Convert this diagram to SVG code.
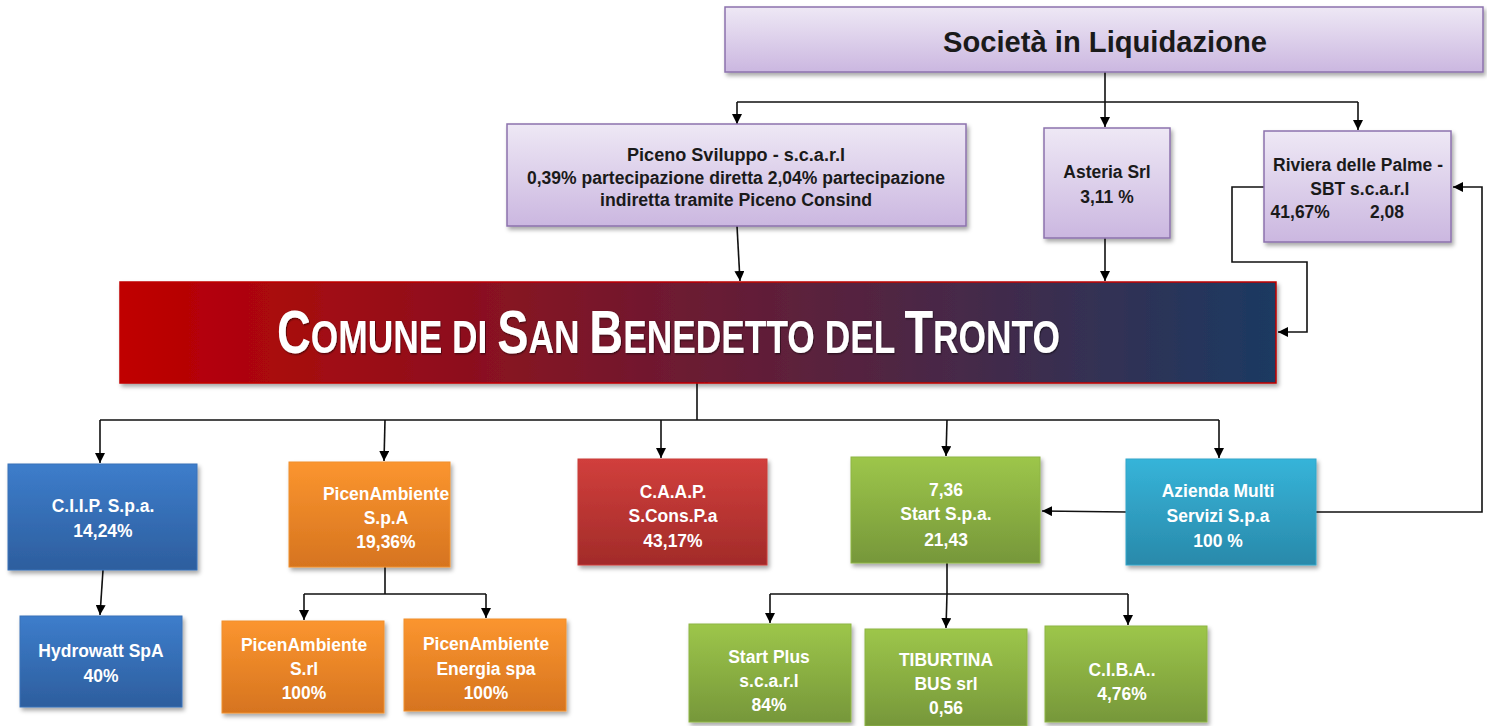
<svg xmlns="http://www.w3.org/2000/svg" width="1487" height="726" viewBox="0 0 1487 726">
<defs>
<linearGradient id="gPurple" x1="0" y1="0" x2="0" y2="1"><stop offset="0" stop-color="#eee8f5"/><stop offset="1" stop-color="#cbb7e0"/></linearGradient>
<linearGradient id="gBlue" x1="0" y1="0" x2="0" y2="1"><stop offset="0" stop-color="#3d7dcb"/><stop offset="1" stop-color="#2d5e9e"/></linearGradient>
<linearGradient id="gOrange" x1="0" y1="0" x2="0" y2="1"><stop offset="0" stop-color="#fb952f"/><stop offset="1" stop-color="#d6741f"/></linearGradient>
<linearGradient id="gRed" x1="0" y1="0" x2="0" y2="1"><stop offset="0" stop-color="#d13f3c"/><stop offset="1" stop-color="#a22b29"/></linearGradient>
<linearGradient id="gGreen" x1="0" y1="0" x2="0" y2="1"><stop offset="0" stop-color="#9dc64a"/><stop offset="1" stop-color="#76973a"/></linearGradient>
<linearGradient id="gCyan" x1="0" y1="0" x2="0" y2="1"><stop offset="0" stop-color="#36b4d9"/><stop offset="1" stop-color="#2989aa"/></linearGradient>
<linearGradient id="gComune" x1="0" y1="0" x2="1" y2="0"><stop offset="0" stop-color="#c00000"/><stop offset="0.5" stop-color="#6a1b33"/><stop offset="1" stop-color="#1b3a62"/></linearGradient>
<filter id="sh" x="-5%" y="-5%" width="115%" height="125%"><feDropShadow dx="2" dy="3" stdDeviation="2" flood-color="#000" flood-opacity="0.35"/></filter>
<filter id="tsh" x="-5%" y="-10%" width="110%" height="130%"><feDropShadow dx="1" dy="1" stdDeviation="1" flood-color="#000" flood-opacity="0.6"/></filter>
<marker id="arr" viewBox="0 0 10 10" refX="10" refY="5" markerWidth="10" markerHeight="10" markerUnits="userSpaceOnUse" orient="auto"><path d="M0,0 L10,5 L0,10 z" fill="#000"/></marker>
</defs>
<style>
.t{font-family:"Liberation Sans",Arial,sans-serif;font-weight:bold;font-size:19px;text-anchor:middle}
.s{text-anchor:start}
.dk{fill:#1a1a1a}
.wh{fill:#ffffff}
.pu{fill:url(#gPurple);stroke:#8c72ad;stroke-width:1.5;filter:url(#sh)}
.bl{fill:url(#gBlue);stroke:#3a73b8;stroke-width:1;filter:url(#sh)}
.or{fill:url(#gOrange);stroke:#f0902f;stroke-width:1;filter:url(#sh)}
.rd{fill:url(#gRed);stroke:#c93c39;stroke-width:1;filter:url(#sh)}
.gr{fill:url(#gGreen);stroke:#8eb544;stroke-width:1;filter:url(#sh)}
.cy{fill:url(#gCyan);stroke:#33a6c9;stroke-width:1;filter:url(#sh)}
.c{fill:none;stroke:#111;stroke-width:1.6}
.a{marker-end:url(#arr)}
</style>
<rect width="1487" height="726" fill="#ffffff"/>

<g id="connectors">
<path class="c" d="M1105,72 V102 M737,102 H1358"/>
<path class="c a" d="M737,102 V124"/>
<path class="c a" d="M1105,102 V127"/>
<path class="c a" d="M1358,102 V130"/>
<path class="c a" d="M737,226 L740,281"/>
<path class="c a" d="M1105,238 V281"/>
<path class="c a" d="M1264,187 H1232 V262 H1307 V332 H1278"/>
<path class="c a" d="M1316,512 H1482 V187 H1453"/>
<path class="c" d="M697,383 V420 M100,420 H1219"/>
<path class="c a" d="M100,420 V463"/>
<path class="c a" d="M385,420 L384,461"/>
<path class="c a" d="M661,420 V458"/>
<path class="c a" d="M947,420 L946,456"/>
<path class="c a" d="M1219,420 V458"/>
<path class="c a" d="M1126,512 L1042,511"/>
<path class="c a" d="M103,570 L100,615"/>
<path class="c" d="M385,567 V594 M304,594 H486"/>
<path class="c a" d="M304,594 V620"/>
<path class="c a" d="M486,594 V618"/>
<path class="c" d="M947,563 V594 M770,594 H1128"/>
<path class="c a" d="M770,594 V623"/>
<path class="c a" d="M947,594 L946,628"/>
<path class="c a" d="M1128,594 V625"/>
</g>

<g id="societa">
<rect class="pu" x="725" y="7" width="758" height="65"/>
<text class="t dk" x="1105" y="52" textLength="324" lengthAdjust="spacingAndGlyphs" style="font-size:30px">Società in Liquidazione</text>
</g>

<g id="piceno">
<rect class="pu" x="507" y="124" width="459" height="102"/>
<text class="t dk" x="736" y="161" style="font-size:18px" textLength="218" lengthAdjust="spacingAndGlyphs">Piceno Sviluppo  - s.c.a.r.l</text>
<text class="t dk" x="736" y="184" style="font-size:18px" textLength="418" lengthAdjust="spacingAndGlyphs">0,39%  partecipazione diretta 2,04% partecipazione</text>
<text class="t dk" x="736" y="206" style="font-size:18px" textLength="272" lengthAdjust="spacingAndGlyphs">indiretta tramite Piceno Consind</text>
</g>

<g id="asteria">
<rect class="pu" x="1044" y="128" width="126" height="110"/>
<g transform="translate(1107,0) scale(0.92,1)">
<text class="t dk" x="0" y="178">Asteria Srl</text>
<text class="t dk" x="0" y="203">3,11 %</text>
</g>
</g>

<g id="riviera">
<rect class="pu" x="1264" y="131" width="187" height="111"/>
<g transform="translate(1358,0) scale(0.92,1)">
<text class="t dk" x="0" y="171">Riviera delle Palme -</text>
<text class="t dk" x="2" y="195">SBT s.c.a.r.l</text>
<text class="t dk s" x="-95" y="218">41,67%</text>
<text class="t dk s" x="13" y="218">2,08</text>
</g>
</g>

<g id="comune">
<rect x="120" y="282" width="1156" height="101" fill="url(#gComune)" stroke="#c00000" stroke-width="1.5" filter="url(#sh)"/>
<text transform="translate(277,353) scale(0.768,1)" x="0" y="0" fill="#ffffff" font-family="'Liberation Sans',Arial,sans-serif" font-weight="bold" font-size="46" filter="url(#tsh)"><tspan font-size="61">C</tspan>OMUNE DI <tspan font-size="61">S</tspan>AN <tspan font-size="61">B</tspan>ENEDETTO DEL <tspan font-size="61">T</tspan>RONTO</text>
</g>

<g id="ciip">
<rect class="bl" x="8" y="464" width="189" height="106"/>
<g transform="translate(103,0) scale(0.92,1)">
<text class="t wh" x="0" y="512">C.I.I.P. S.p.a.</text>
<text class="t wh" x="0" y="537">14,24%</text>
</g>
</g>

<g id="hydrowatt">
<rect class="bl" x="20" y="616" width="162" height="91"/>
<g transform="translate(101,0) scale(0.92,1)">
<text class="t wh" x="0" y="657">Hydrowatt SpA</text>
<text class="t wh" x="0" y="682">40%</text>
</g>
</g>

<g id="picenambiente-spa">
<rect class="or" x="289" y="462" width="161" height="105"/>
<g transform="translate(386,0) scale(0.92,1)">
<text class="t wh" x="0" y="500">PicenAmbiente</text>
<text class="t wh" x="0" y="524">S.p.A</text>
<text class="t wh" x="0" y="548">19,36%</text>
</g>
</g>

<g id="picenambiente-srl">
<rect class="or" x="222" y="621" width="162" height="92"/>
<g transform="translate(304,0) scale(0.92,1)">
<text class="t wh" x="0" y="651">PicenAmbiente</text>
<text class="t wh" x="0" y="675">S.rl</text>
<text class="t wh" x="0" y="699">100%</text>
</g>
</g>

<g id="picenambiente-energia">
<rect class="or" x="404" y="619" width="162" height="92"/>
<g transform="translate(486,0) scale(0.92,1)">
<text class="t wh" x="0" y="650">PicenAmbiente</text>
<text class="t wh" x="0" y="675">Energia spa</text>
<text class="t wh" x="0" y="699">100%</text>
</g>
</g>

<g id="caap">
<rect class="rd" x="578" y="459" width="189" height="106"/>
<g transform="translate(673,0) scale(0.92,1)">
<text class="t wh" x="0" y="498">C.A.A.P.</text>
<text class="t wh" x="0" y="522">S.Cons.P.a</text>
<text class="t wh" x="0" y="547">43,17%</text>
</g>
</g>

<g id="start">
<rect class="gr" x="851" y="457" width="189" height="106"/>
<g transform="translate(946,0) scale(0.92,1)">
<text class="t wh" x="0" y="496">7,36</text>
<text class="t wh" x="0" y="520">Start S.p.a.</text>
<text class="t wh" x="0" y="546">21,43</text>
</g>
</g>

<g id="ams">
<rect class="cy" x="1126" y="459" width="190" height="106"/>
<g transform="translate(1218,0) scale(0.92,1)">
<text class="t wh" x="0" y="497">Azienda Multi</text>
<text class="t wh" x="0" y="522">Servizi S.p.a</text>
<text class="t wh" x="0" y="547">100 %</text>
</g>
</g>

<g id="startplus">
<rect class="gr" x="689" y="624" width="162" height="98"/>
<g transform="translate(769,0) scale(0.92,1)">
<text class="t wh" x="0" y="663">Start Plus</text>
<text class="t wh" x="0" y="687">s.c.a.r.l</text>
<text class="t wh" x="0" y="711">84%</text>
</g>
</g>

<g id="tiburtina">
<rect class="gr" x="865" y="629" width="162" height="97"/>
<g transform="translate(946,0) scale(0.92,1)">
<text class="t wh" x="0" y="666">TIBURTINA</text>
<text class="t wh" x="0" y="690">BUS srl</text>
<text class="t wh" x="0" y="714">0,56</text>
</g>
</g>

<g id="ciba">
<rect class="gr" x="1045" y="626" width="162" height="96"/>
<g transform="translate(1122,0) scale(0.92,1)">
<text class="t wh" x="0" y="676">C.I.B.A..</text>
<text class="t wh" x="0" y="700">4,76%</text>
</g>
</g>
</svg>
